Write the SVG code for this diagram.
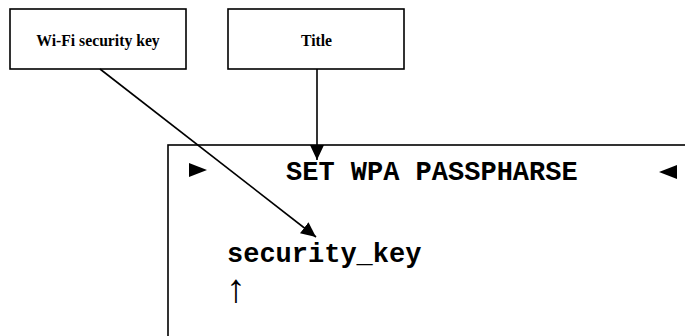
<svg xmlns="http://www.w3.org/2000/svg" width="685" height="336" viewBox="0 0 685 336">
<style>
.box{fill:#fff;stroke:#000;stroke-width:1.6}
.lbl{font-family:"Liberation Serif","Times New Roman",serif;font-weight:bold;font-size:15.7px;fill:#000;text-anchor:middle}
.mono{font-family:"Liberation Mono","Courier New",monospace;font-weight:bold;font-size:27px;fill:#000}
.conn{stroke:#000;stroke-width:1.6;fill:none}
</style>
<defs>
<marker id="ah" viewBox="0 0 15 14" refX="15" refY="7" markerWidth="15" markerHeight="14" markerUnits="userSpaceOnUse" orient="auto">
<path d="M0,0 L15,7 L0,14 Z" fill="#000"/>
</marker>
</defs>
<g id="screen">
<rect class="box" x="168" y="145" width="540" height="220"/>
<polygon points="189,163 207,170 189,177" fill="#000"/>
<text class="mono" x="286" y="180">SET WPA PASSPHARSE</text>
<polygon points="677,165 659,172 677,179" fill="#000"/>
<text class="mono" x="227" y="262">security_key</text>
<text x="236" y="302" font-family="Liberation Serif, serif" font-size="40" fill="#000" text-anchor="middle">↑</text>
</g>
<g id="wifi-key">
<rect class="box" x="10" y="9" width="176" height="60"/>
<text class="lbl" x="98" y="45.5">Wi-Fi security key</text>
</g>
<g id="title">
<rect class="box" x="228" y="9" width="176" height="60"/>
<text class="lbl" x="316.5" y="45.5">Title</text>
</g>
<g id="connectors">
<line class="conn" x1="100" y1="69" x2="316" y2="237" marker-end="url(#ah)"/>
<line class="conn" x1="317" y1="69" x2="317" y2="160" marker-end="url(#ah)"/>
</g>
</svg>
